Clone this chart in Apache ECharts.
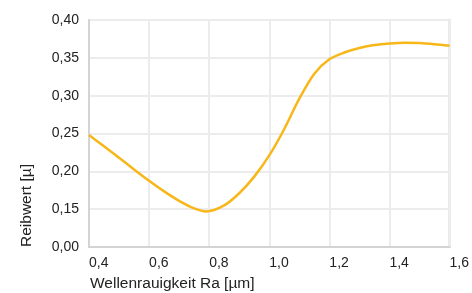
<!DOCTYPE html>
<html>
<head>
<meta charset="utf-8">
<script src="https://cdn.jsdelivr.net/npm/echarts@6/dist/echarts.min.js"></script>
<style>
  html, body { margin: 0; padding: 0; background: #fff; }
  #chart { width: 472px; height: 293px; }
</style>
</head>
<body>
<div id="chart"></div>
<script>
// Werte
const rauigkeit = [0.40, 0.45, 0.50, 0.55, 0.60, 0.65, 0.70, 0.75, 0.79, 0.85, 0.90, 0.95,
  1.00, 1.05, 1.10, 1.15, 1.20, 1.25, 1.30, 1.35, 1.40, 1.45, 1.50, 1.55, 1.60];
const reibwert = [0.248, 0.233, 0.218, 0.2025, 0.1875, 0.1735, 0.161, 0.151, 0.147, 0.155, 0.171, 0.193,
  0.221, 0.256, 0.296, 0.329, 0.348, 0.357, 0.363, 0.367, 0.369, 0.370, 0.3695, 0.368, 0.366];
const xTicks = [0.4, 0.6, 0.8, 1.0, 1.2, 1.4, 1.6];
const yTicks = [0.10, 0.15, 0.20, 0.25, 0.30, 0.35, 0.40]; // 0.10 wird als "0,00" gezeigt (Achsenbruch)

const font = "'Liberation Sans', Arial, Helvetica, sans-serif";
const chart = echarts.init(document.getElementById("chart"));

chart.setOption({
  animation: false,
  grid: {
    left: 89, right: 19, top: 20, bottom: 46,
    show: true, borderColor: "#d4d4d4", borderWidth: 2
  },
  xAxis: {
    type: "value",
    min: xTicks[0], max: xTicks[xTicks.length - 1], interval: 0.2,
    axisLine: { lineStyle: { color: "#d4d4d4", width: 2 } },
    axisTick: { show: false },
    splitLine: { lineStyle: { color: "#ececec", width: 2 } },
    axisLabel: {
      color: "#222", fontFamily: font, fontSize: 14, margin: 9, align: "left",
      showMaxLabel: true,
      formatter: v => v.toFixed(1).replace(".", ",")
    }
  },
  yAxis: {
    type: "value",
    min: yTicks[0], max: yTicks[yTicks.length - 1], interval: 0.05,
    axisLine: { show: true, lineStyle: { color: "#d4d4d4", width: 2 } },
    axisTick: { show: false },
    splitLine: { lineStyle: { color: "#ececec", width: 2 } },
    axisLabel: {
      color: "#222", fontFamily: font, fontSize: 14, margin: 10,
      padding: [0, 0, 9, 0],
      formatter: v => v < 0.12 ? "0,00" : v.toFixed(2).replace(".", ",")
    }
  },
  graphic: [
    {
      type: "text", x: 90, y: 284,
      style: { text: "Wellenrauigkeit Ra [µm]", fill: "#222", font: "15.5px " + font, align: "left", verticalAlign: "middle" }
    },
    {
      type: "text", x: 27, y: 247, rotation: Math.PI / 2,
      style: { text: "Reibwert [µ]", fill: "#222", font: "15.5px " + font, align: "left", verticalAlign: "middle" }
    }
  ],
  series: [{
    type: "line",
    data: rauigkeit.map((x, i) => [x, reibwert[i]]),
    smooth: 0.3,
    showSymbol: false,
    lineStyle: { color: "#f7b718", width: 2.5 }
  }]
});
</script>
</body>
</html>
